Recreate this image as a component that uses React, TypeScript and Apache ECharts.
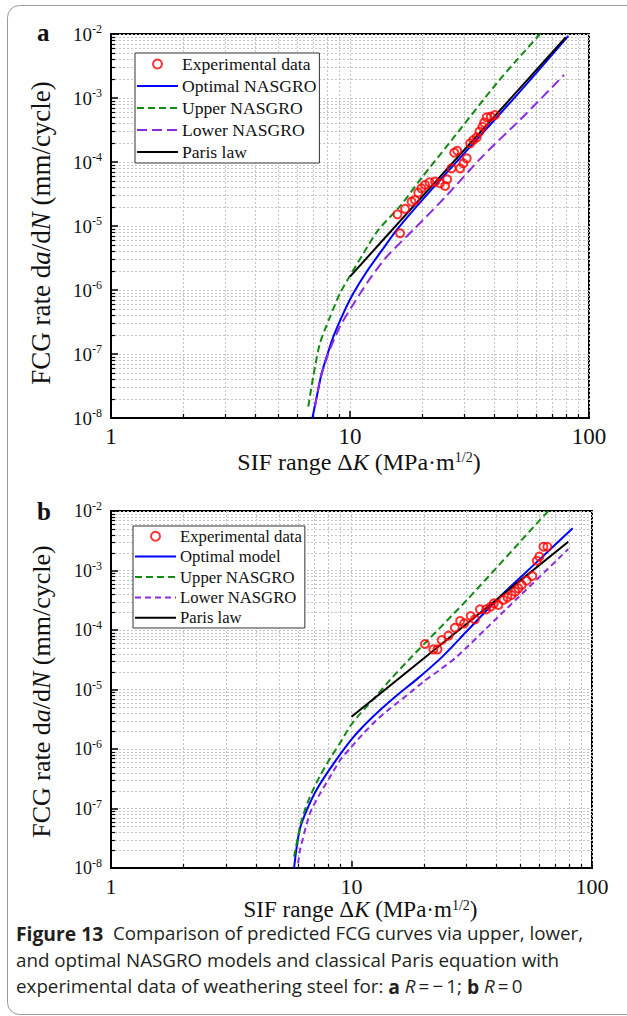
import React, { useEffect, useRef } from "react";
import * as echarts from "echarts";

// ---------- Panel a (R = -1) ----------
const expA_K = [15.8, 16.2, 17.0, 18.1, 18.7, 19.3, 19.9, 20.6, 21.5, 22.7, 23.8, 25.0, 25.5, 26.6, 27.3, 28.1, 28.9, 29.8, 30.8, 31.8, 32.8, 33.9, 34.8, 35.8, 36.4, 37.3, 38.8, 40.4];
const expA_da = [1.52e-5, 7.7e-6, 1.85e-5, 2.4e-5, 2.55e-5, 3.32e-5, 3.88e-5, 4.38e-5, 4.81e-5, 4.93e-5, 4.65e-5, 4.22e-5, 5.36e-5, 7.96e-5, 1.4e-4, 1.5e-4, 7.96e-5, 9.5e-5, 1.14e-4, 1.96e-4, 2.21e-4, 2.43e-4, 2.98e-4, 3.56e-4, 4.12e-4, 4.99e-4, 5.11e-4, 5.42e-4];

const optA_K = [6.96, 7.26, 7.61, 7.99, 8.52, 9.38, 10.33, 11.74, 13.79, 15.7, 20, 30, 50, 82];
const optA_da = [1e-8, 2.15e-8, 4.99e-8, 9.08e-8, 1.87e-7, 4.32e-7, 8.87e-7, 1.93e-6, 4.48e-6, 8.7e-6, 2.51e-5, 1.35e-4, 1.12e-3, 9.33e-3];

const upA_K = [6.69, 7.02, 7.49, 8.25, 9.08, 9.84, 11.37, 13.14, 16.2, 20, 26.2, 41.1, 49.8, 62.4];
const upA_da = [1.51e-8, 4.47e-8, 1.48e-7, 3.8e-7, 8.9e-7, 1.51e-6, 3.72e-6, 8.7e-6, 2.04e-5, 5.75e-5, 2.04e-4, 1.7e-3, 3.89e-3, 1.0e-2];

const lowA_K = [7.14, 7.49, 8.12, 9.08, 10.5, 12.13, 14.24, 18.4, 25, 36.1, 51.5, 78.6];
const lowA_da = [1.51e-8, 3.89e-8, 1.02e-7, 2.69e-7, 6.6e-7, 1.51e-6, 3.31e-6, 8.7e-6, 2.82e-5, 1.26e-4, 4.57e-4, 2.29e-3];

const parisA_K = [10, 80];
const parisA_da = [1.62e-6, 8.9e-3];

// ---------- Panel b (R = 0) ----------
const expB_K = [20.2, 21.9, 22.8, 23.7, 25.3, 26.9, 28.3, 29.4, 31.3, 32.6, 34.2, 36.3, 37.9, 39.1, 40.8, 42.8, 44.5, 46.3, 47.9, 49.4, 51.0, 53.5, 56.5, 58.9, 60.4, 62.8, 65.2];
const expB_da = [5.82e-5, 4.73e-5, 4.73e-5, 6.79e-5, 8.03e-5, 1.09e-4, 1.42e-4, 1.29e-4, 1.72e-4, 1.51e-4, 2.22e-4, 2.22e-4, 2.46e-4, 2.81e-4, 2.63e-4, 3.19e-4, 3.54e-4, 3.87e-4, 4.41e-4, 5.01e-4, 5.7e-4, 6.74e-4, 8.09e-4, 1.46e-3, 1.71e-3, 2.51e-3, 2.51e-3];

const optB_K = [5.77, 5.92, 6.11, 6.51, 7.17, 8.41, 10.18, 12.33, 15.41, 18.66, 23.7, 30, 41.4, 60, 83.1];
const optB_da = [1e-8, 2.29e-8, 4.68e-8, 9.33e-8, 2.09e-7, 5.62e-7, 1.58e-6, 3.55e-6, 7.94e-6, 1.48e-5, 3.47e-5, 9.33e-5, 3.63e-4, 1.48e-3, 5.13e-3];

const upB_K = [5.77, 6.21, 6.72, 7.4, 8.14, 8.96, 9.86, 10.85, 12.73, 14.46, 17.8, 30.1, 60.8, 65.8];
const upB_da = [1.55e-8, 6.46e-8, 1.58e-7, 3.55e-7, 6.92e-7, 1.26e-6, 2.4e-6, 3.89e-6, 7.94e-6, 1.45e-5, 3.55e-5, 3.16e-4, 7.08e-3, 1.0e-2];

const lowB_K = [6.0, 6.11, 6.72, 7.4, 8.14, 8.96, 9.86, 11.2, 12.73, 14.46, 16.96, 19.89, 23.3, 27.4, 40, 79.7];
const lowB_da = [1.2e-8, 2.0e-8, 8.32e-8, 1.78e-7, 3.39e-7, 6.46e-7, 1.02e-6, 1.82e-6, 3.09e-6, 4.79e-6, 7.94e-6, 1.35e-5, 2.14e-5, 3.55e-5, 1.55e-4, 2.29e-3];

const parisB_K = [10, 79.7];
const parisB_da = [3.49e-6, 3.05e-3];

// ---------- axes ----------
const xMinorTicks = [2, 3, 4, 5, 6, 7, 8, 9, 20, 30, 40, 50, 60, 70, 80, 90];
const yDecades = [-8, -7, -6, -5, -4, -3];
const yMinorMult = [2, 3, 4, 5, 6, 7, 8, 9];
const yMinorTicks = yDecades.flatMap((e) => yMinorMult.map((m) => m * Math.pow(10, e)));

const legendNamesA = ["Experimental data", "Optimal NASGRO", "Upper NASGRO", "Lower NASGRO", "Paris law"];
const legendNamesB = ["Experimental data", "Optimal model", "Upper NASGRO", "Lower NASGRO", "Paris law"];

const SERIF = "'Liberation Serif', 'Times New Roman', serif";
const SANS = "'Open Sans', 'Noto Sans', sans-serif";
const GRID_COLOR = "#c4c4c4";

const pairs = (xs: number[], ys: number[]) => xs.map((x, i) => [x, ys[i]]);

function gridLines(idx: number, dir: "v" | "h") {
  const data = dir === "v" ? xMinorTicks.map((v) => [v, 1e-5]) : yMinorTicks.map((v) => [10, v]);
  return {
    type: "custom",
    xAxisIndex: idx,
    yAxisIndex: idx,
    silent: true,
    z: 1,
    data,
    renderItem: (params: any, api: any) => {
      const cs = params.coordSys;
      const p = api.coord([api.value(0), api.value(1)]);
      if (dir === "v") {
        const x = Math.round(p[0]) + 0.5;
        const yb = cs.y + cs.height;
        return {
          type: "group",
          children: [
            { type: "line", shape: { x1: x, y1: cs.y, x2: x, y2: yb }, style: { stroke: GRID_COLOR, lineWidth: 1, lineDash: [2, 2] } },
            { type: "line", shape: { x1: x, y1: yb, x2: x, y2: yb - 4 }, style: { stroke: "#000", lineWidth: 1.2 } },
          ],
        };
      }
      const y = Math.round(p[1]) + 0.5;
      return {
        type: "group",
        children: [
          { type: "line", shape: { x1: cs.x, y1: y, x2: cs.x + cs.width, y2: y }, style: { stroke: GRID_COLOR, lineWidth: 1, lineDash: [2, 2] } },
          { type: "line", shape: { x1: cs.x, y1: y, x2: cs.x + 4, y2: y }, style: { stroke: "#000", lineWidth: 1.2 } },
        ],
      };
    },
  };
}

function lineSeries(name: string, idx: number, xs: number[], ys: number[], color: string, dash: any) {
  return {
    type: "line",
    name,
    xAxisIndex: idx,
    yAxisIndex: idx,
    data: pairs(xs, ys),
    showSymbol: false,
    symbol: "none",
    smooth: 0.25,
    z: 3,
    lineStyle: { color, width: 2, type: dash },
    itemStyle: { color },
  };
}

function scatterSeries(idx: number, xs: number[], ys: number[]) {
  return {
    type: "scatter",
    name: "Experimental data",
    xAxisIndex: idx,
    yAxisIndex: idx,
    data: pairs(xs, ys),
    symbol: "circle",
    symbolSize: 8,
    z: 4,
    itemStyle: { color: "transparent", borderColor: "#ff0000", borderWidth: 2 },
  };
}

function xAxis(idx: number, nameGap: number, fs: number, nfs: number) {
  return {
    type: "log",
    gridIndex: idx,
    logBase: 10,
    min: 1,
    max: 100,
    name: "SIF range Δ{i|K} (MPa·m{s|1/2})",
    nameLocation: "middle",
    nameGap,
    nameTextStyle: {
      fontFamily: SERIF,
      fontSize: nfs,
      color: "#111",
      padding: [0, 0, 0, 18],
      rich: {
        i: { fontFamily: SERIF, fontSize: nfs, fontStyle: "italic", color: "#111" },
        s: { fontFamily: SERIF, fontSize: 14, color: "#111", verticalAlign: "top", lineHeight: 14 },
      },
    },
    axisLine: { show: true, lineStyle: { color: "#000", width: 2 } },
    axisTick: { show: true, inside: true, length: 7, lineStyle: { color: "#000", width: 1.5 } },
    axisLabel: {
      margin: 7,
      fontFamily: SERIF,
      fontSize: fs,
      color: "#111",
      formatter: (v: number) => String(Math.round(v)),
    },
    splitLine: { show: true, lineStyle: { color: GRID_COLOR, type: [2, 2], width: 1 } },
  };
}

function yAxis(idx: number, nameGap: number, fs: number, nfs: number, shift: number) {
  return {
    type: "log",
    gridIndex: idx,
    logBase: 10,
    min: 1e-8,
    max: 1e-2,
    name: "FCG rate d{i|a}/d{i|N} (mm/cycle)",
    nameLocation: "middle",
    nameGap,
    nameRotate: 90,
    nameTextStyle: {
      fontFamily: SERIF,
      fontSize: nfs,
      color: "#111",
      padding: [0, shift, 0, 0],
      rich: { i: { fontFamily: SERIF, fontSize: nfs, fontStyle: "italic", color: "#111" } },
    },
    axisLine: { show: true, lineStyle: { color: "#000", width: 2 } },
    axisTick: { show: true, inside: true, length: 7, lineStyle: { color: "#000", width: 1.5 } },
    axisLabel: {
      margin: 9,
      color: "#111",
      formatter: (v: number) => `{b|10}{s|${Math.round(Math.log10(v))}}`,
      rich: {
        b: { fontFamily: SERIF, fontSize: fs, color: "#111", lineHeight: 22 },
        s: { fontFamily: SERIF, fontSize: 12, color: "#111", verticalAlign: "top", lineHeight: 12 },
      },
    },
    splitLine: { show: true, lineStyle: { color: GRID_COLOR, type: [2, 2], width: 1 } },
  };
}

const hiddenSymbol = { color: "rgba(0,0,0,0)", borderColor: "rgba(0,0,0,0)", borderWidth: 0 };

function legend(names: string[], left: number, top: number, fs: number, lh: number, lowerDash: any) {
  return {
    orient: "vertical",
    left,
    top,
    itemWidth: 41,
    itemHeight: 9,
    itemGap: 0,
    padding: [0, 3, 0, 1],
    backgroundColor: "#fff",
    borderColor: "#333",
    borderWidth: 1,
    selectedMode: false,
    data: names.map((n) => {
      if (n === "Experimental data") return { name: n };
      if (n === "Lower NASGRO") return { name: n, lineStyle: { type: lowerDash }, itemStyle: hiddenSymbol };
      return { name: n, itemStyle: hiddenSymbol };
    }),
    textStyle: { fontFamily: SERIF, fontSize: fs, color: "#111", lineHeight: lh, padding: [0, 0, 0, -1] },
    z: 10,
  };
}

export default function App() {
  const ref = useRef<HTMLDivElement>(null);
  useEffect(() => {
    if (!ref.current) return;
    const chart = echarts.init(ref.current, undefined, { renderer: "svg" });
    const GREEN = "#138a13";
    const PURPLE = "#8a2be2";
    const option: any = {
      animation: false,
      backgroundColor: "#fff",
      grid: [
        { left: 111, top: 34, width: 478, height: 384, show: true, borderColor: "#000", borderWidth: 2, backgroundColor: "transparent" },
        { left: 111, top: 511, width: 481, height: 357, show: true, borderColor: "#000", borderWidth: 2, backgroundColor: "transparent" },
      ],
      xAxis: [xAxis(0, 32, 23, 24), xAxis(1, 30, 22, 23)],
      yAxis: [yAxis(0, 57, 19, 27, 14), yAxis(1, 57, 18, 26, 4)],
      legend: [
        legend(legendNamesA, 135, 53, 17.6, 22, [10, 5]),
        legend(legendNamesB, 133, 526, 16.7, 20.4, [6, 4]),
      ],
      series: [
        gridLines(0, "v"),
        gridLines(0, "h"),
        gridLines(1, "v"),
        gridLines(1, "h"),
        lineSeries("Optimal NASGRO", 0, optA_K, optA_da, "#0000ff", "solid"),
        lineSeries("Upper NASGRO", 0, upA_K, upA_da, GREEN, [7, 4]),
        lineSeries("Lower NASGRO", 0, lowA_K, lowA_da, PURPLE, [10, 5]),
        lineSeries("Paris law", 0, parisA_K, parisA_da, "#000000", "solid"),
        scatterSeries(0, expA_K, expA_da),
        lineSeries("Optimal model", 1, optB_K, optB_da, "#0000ff", "solid"),
        lineSeries("Upper NASGRO", 1, upB_K, upB_da, GREEN, [7, 4]),
        lineSeries("Lower NASGRO", 1, lowB_K, lowB_da, PURPLE, [6, 4]),
        lineSeries("Paris law", 1, parisB_K, parisB_da, "#000000", "solid"),
        scatterSeries(1, expB_K, expB_da),
      ],
      graphic: [
        {
          type: "rect",
          silent: true,
          shape: { x: 7.5, y: 5.5, width: 700, height: 1009, r: 12 },
          style: { fill: "none", stroke: "#9a9a9a", lineWidth: 1 },
          z: -1,
        },
        { type: "text", x: 37, y: 20, style: { text: "a", font: `bold 25px ${SERIF}`, fill: "#111" } },
        { type: "text", x: 37, y: 499, style: { text: "b", font: `bold 25px ${SERIF}`, fill: "#111" } },
        {
          type: "text",
          x: 16,
          y: 920,
          style: {
            text:
              "{fb|Figure 13}  Comparison of predicted FCG curves via upper, lower,\nand optimal NASGRO models and classical Paris equation with\nexperimental data of weathering steel for: {fb|a} {it|R}\u2009=\u2009\u2212\u20091; {fb|b} {it|R}\u2009=\u20090",
            fontFamily: SANS,
            fontSize: 18.8,
            lineHeight: 26.5,
            fill: "#231f20",
            rich: {
              fb: { fontFamily: SANS, fontSize: 19.3, fontWeight: "bold", fill: "#231f20", lineHeight: 26.5 },
              it: { fontFamily: SANS, fontSize: 18.8, fontStyle: "italic", fill: "#231f20", lineHeight: 26.5 },
            },
          },
        },
      ],
    };
    chart.setOption(option);
    return () => chart.dispose();
  }, []);
  return <div ref={ref} style={{ position: "absolute", left: 0, top: 0, width: 627, height: 1016 }} />;
}
